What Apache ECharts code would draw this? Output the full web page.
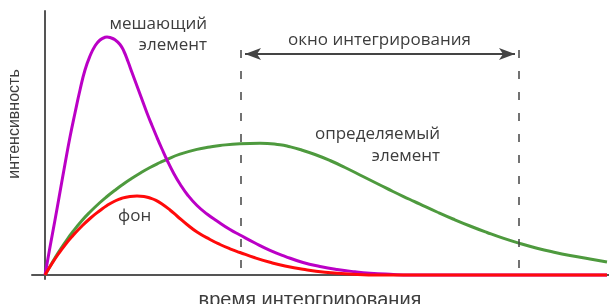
<!DOCTYPE html>
<html>
<head>
<meta charset="utf-8">
<script src="https://cdn.jsdelivr.net/npm/echarts@6/dist/echarts.min.js"></script>
<style>
html,body{margin:0;padding:0;background:#fff;}
#c{width:609px;height:304px;}
</style>
</head>
<body>
<div id="c"></div>
<script>
// [time, intensity] in arbitrary units
var interfererData = [
  [0,0],[5,28],[10,55],[15,83],[20,111],[25,138],[30,162],[35,185],[40,205],[45,219],[50,229],
  [55,235],[60,237.7],[62,238],[65,237.5],[70,235.2],[75,230.5],[79,223.5],[83,213.5],[87,202.5],
  [92,189],[97,175.5],[102,162],[107,149.5],[112,137.5],[117,126],[122,115],[128,103],[135,91],
  [143,79.5],[152,69.5],[162,61],[172,54],[185,45.5],[195,40],[210,32],[225,24.7],[240,18.7],
  [258,12.5],[275,8.5],[292,5.5],[310,3.2],[325,1.8],[345,0.7],[365,0],[562,0]
];
var analyteData = [
  [0,0],[7,12],[13,22],[20,32.5],[28,43.5],[37,54.5],[45,63],[55,72.5],[62,78.5],[70,84.8],
  [77,90],[85,95.5],[95,101.8],[105,107.5],[115,112.5],[122,115.7],[135,120.8],[152,125.6],
  [165,128],[175,129.5],[195,131.3],[215,131.8],[235,130.2],[245,128.2],[255,125.5],[270,120.5],
  [285,114.5],[300,107.5],[318,98.5],[335,90],[348,83.5],[365,75.5],[375,70.8],[392,63],
  [408,56],[425,49],[442,42.5],[458,36.8],[475,31.5],[492,26.8],[508,23],[525,19.5],[545,16],
  [562,13]
];
var backgroundData = [
  [0,0],[7,11.5],[13,20.5],[20,30],[28,39.5],[35,47],[45,56.5],[55,64.5],[62,69.5],[70,74],
  [77,76.8],[85,78.6],[92,79.1],[99,78.6],[105,77],[111,74.6],[117,71],[125,65],[132,59],
  [142,50.5],[152,43],[165,35.5],[175,30.5],[185,26.2],[195,22.5],[210,17.2],[225,12.7],
  [240,9],[258,5.7],[280,2.8],[308,0.8],[335,0],[562,0]
];
var windowStart = 196;
var windowEnd = 474;
var windowTop = 225;
var windowBottom = -3;
var arrowLevel = 221;
var arrowFrom = 200;
var arrowTo = 470;

var xName = 'время интергрирования';
var yName = 'интенсивность';
var labels = {
  interferer: ['мешающий', 'элемент'],
  analyte: ['определяемый', 'элемент'],
  background: 'фон',
  window: 'окно интегрирования'
};

var chart = echarts.init(document.getElementById('c'), null, {renderer: 'canvas'});
var annFont = '"Open Sans", sans-serif';
var axFont = '"Liberation Sans", Arial, sans-serif';
var textColor = '#3d3d3d';

chart.setOption({
  animation: false,
  grid: {left: 32, right: 0, top: 11, bottom: 25, containLabel: false, outerBoundsMode: 'none'},
  xAxis: {
    type: 'value', min: -13, max: 564,
    axisLine: {show: true, lineStyle: {color: '#555', width: 2}},
    axisTick: {show: false}, axisLabel: {show: false}, splitLine: {show: false}
  },
  yAxis: {
    type: 'value', min: -4, max: 264,
    axisLine: {show: true, lineStyle: {color: '#555', width: 2}},
    axisTick: {show: false}, axisLabel: {show: false}, splitLine: {show: false}
  },
  series: [
    {
      type: 'line', data: analyteData, smooth: 0.5, showSymbol: false,
      lineStyle: {color: '#4e9a3e', width: 3}, z: 2,
      markLine: {
        silent: true, symbol: ['none', 'none'], label: {show: false},
        lineStyle: {color: '#444', width: 1.5, type: [8, 13]},
        data: [
          [{coord: [windowStart, windowTop]}, {coord: [windowStart, windowBottom]}],
          [{coord: [windowEnd, windowTop]}, {coord: [windowEnd, windowBottom]}]
        ]
      }
    },
    {
      type: 'line', data: interfererData, smooth: 0.5, showSymbol: false,
      lineStyle: {color: '#bb00c6', width: 3}, z: 3,
      markLine: {
        silent: true, symbol: ['arrow', 'arrow'], symbolSize: [9, 16], label: {show: false},
        lineStyle: {color: '#444', width: 2, type: 'solid'},
        data: [
          [{coord: [arrowFrom, arrowLevel]}, {coord: [arrowTo, arrowLevel]}]
        ]
      }
    },
    {
      type: 'line', data: backgroundData, smooth: 0.5, showSymbol: false,
      lineStyle: {color: '#ff0a0a', width: 3}, z: 4
    }
  ],
  graphic: [
    {type: 'text', x: 310, y: 300, style: {text: xName, font: '20px ' + axFont, fill: textColor, align: 'center', verticalAlign: 'middle'}},
    {type: 'text', x: 15, y: 124, rotation: Math.PI / 2, style: {text: yName, font: '16px ' + axFont, fill: textColor, align: 'center', verticalAlign: 'middle'}},
    {type: 'text', right: 609 - 207, top: 16, style: {text: labels.interferer[0], font: '17px ' + annFont, fill: textColor}},
    {type: 'text', right: 609 - 207, top: 37, style: {text: labels.interferer[1], font: '17px ' + annFont, fill: textColor}},
    {type: 'text', left: 288, top: 32, style: {text: labels.window, font: '17px ' + annFont, fill: textColor}},
    {type: 'text', right: 609 - 440, top: 126, style: {text: labels.analyte[0], font: '17px ' + annFont, fill: textColor}},
    {type: 'text', right: 609 - 440, top: 148, style: {text: labels.analyte[1], font: '17px ' + annFont, fill: textColor}},
    {type: 'text', left: 118, top: 208, style: {text: labels.background, font: '17px ' + annFont, fill: textColor}}
  ]
});
</script>
</body>
</html>
